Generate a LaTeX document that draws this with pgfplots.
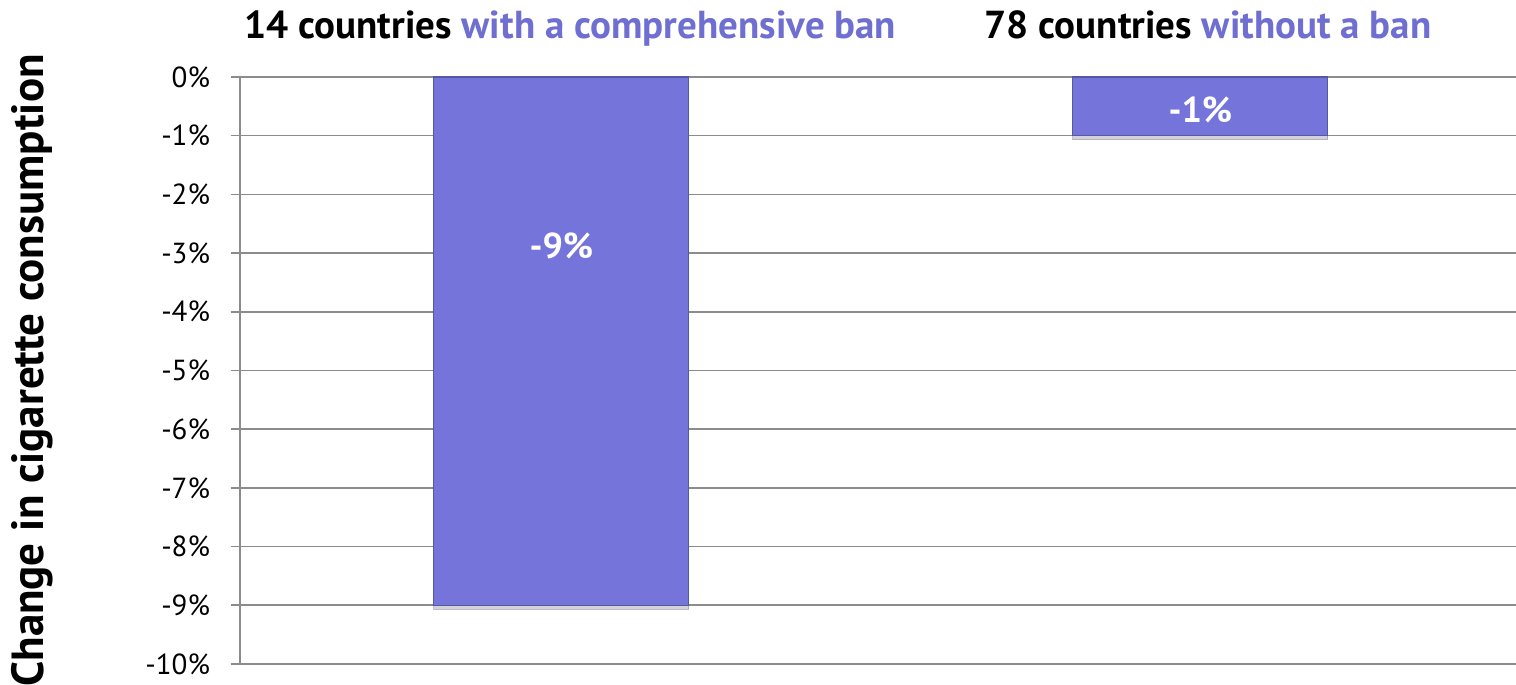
\documentclass[border=0pt]{standalone}
\usepackage{pgfplots}
\pgfplotsset{compat=1.18}
\usepackage{fontspec}
\setmainfont{PT Sans}
\usetikzlibrary{shadows}
\definecolor{barcol}{HTML}{7474DB}
\definecolor{hl}{HTML}{6F6FD2}
\definecolor{gridc}{HTML}{8C8C8C}
\begin{document}
\begin{tikzpicture}
\begin{axis}[
  name=ax,
  scale only axis,
  width=638pt, height=293.5pt,
  xmin=-0.503, xmax=1.494,
  ymin=-10, ymax=0,
  ytick={-10,-9,...,0},
  xtick=\empty,
  ytick pos=left,
  tick align=outside,
  major tick length=4.5pt,
  ymajorgrids,
  grid style={gridc, line width=0.8pt},
  major tick style={gridc, line width=0.8pt},
  axis line style={draw=none},
  axis y line*=left,
  axis x line=none,
  /pgf/number format/assume math mode=true,
  yticklabel={\pgfmathprintnumber{\tick}\%},
  yticklabel style={font=\fontsize{14.5}{16}\selectfont, xshift=-7pt},
  ylabel={\bfseries Change in cigarette consumption},
  every axis y label/.style={at={(rel axis cs:0,0.5)}, xshift=-104pt, rotate=90, anchor=center, font=\fontsize{22.5}{24}\selectfont},
  clip=false,
  ybar, bar width=127.5pt,
]
\draw[gridc, line width=0.8pt] (rel axis cs:0,0) -- (rel axis cs:0,1);
\addplot[fill=barcol, draw=barcol!75!black, line width=0.6pt, drop shadow={shadow xshift=0pt, shadow yshift=-2pt, opacity=0.35}] coordinates {(0,-9) (1,-1)};
\node[text=white, font=\fontsize{18}{20}\selectfont\bfseries] at (axis cs:0,-2.88) {-9\%};
\node[text=white, font=\fontsize{18}{20}\selectfont\bfseries] at (axis cs:1,-0.56) {-1\%};
\node[anchor=base, font=\fontsize{19.5}{22}\selectfont\bfseries] at ([yshift=19pt]axis cs:0.014,0) {14 countries \textcolor{hl}{with a comprehensive ban}};
\node[anchor=base, font=\fontsize{19.5}{22}\selectfont\bfseries] at ([yshift=19pt]axis cs:1.012,0) {78 countries \textcolor{hl}{without a ban}};
\end{axis}
\pgfresetboundingbox
\path ([xshift=-120pt,yshift=-10.5pt]ax.south west) rectangle ([yshift=38.5pt]ax.north east);
\end{tikzpicture}
\end{document}
